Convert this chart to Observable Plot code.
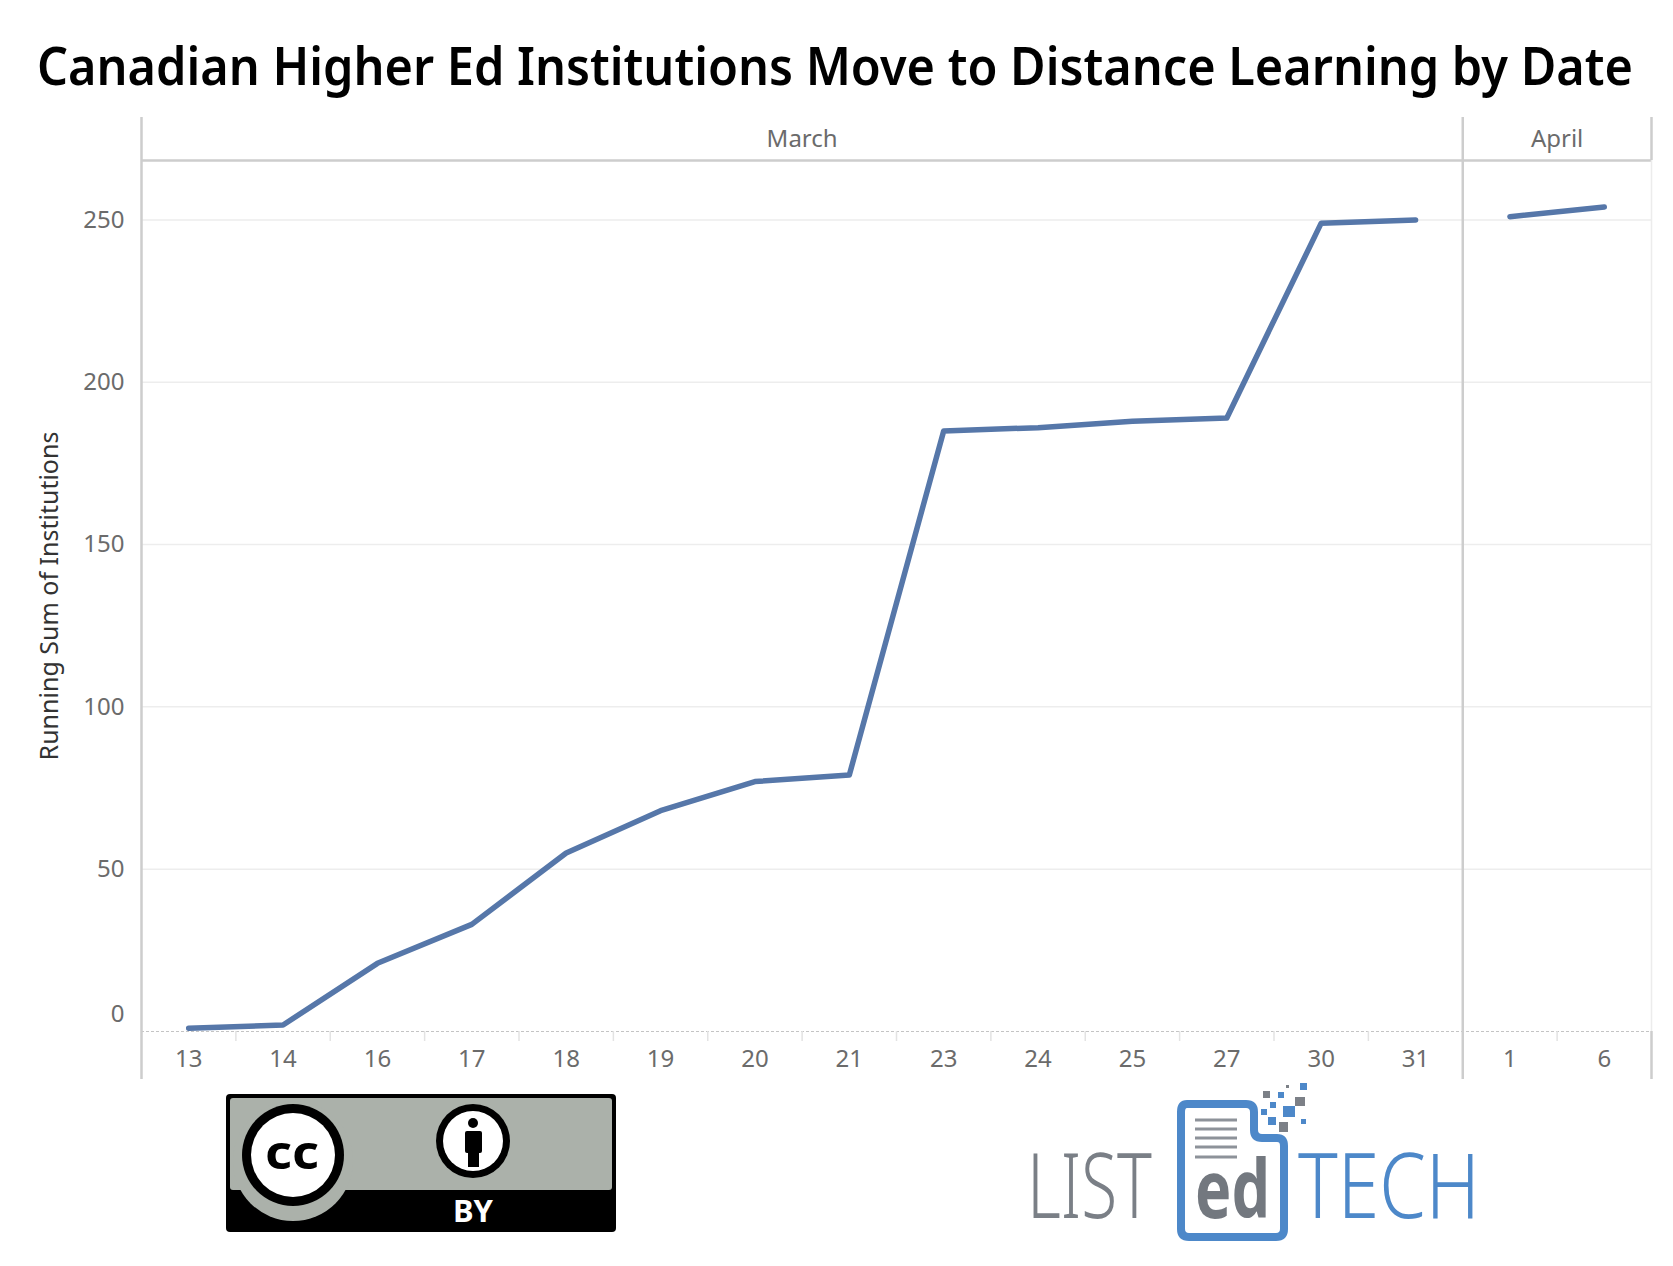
<!DOCTYPE html>
<html>
<head>
<meta charset="utf-8">
<script src="https://cdn.jsdelivr.net/npm/d3@7"></script>
<script src="https://cdn.jsdelivr.net/npm/@observablehq/plot@0.6"></script>
<style>
  html, body { margin: 0; padding: 0; background: #fff; }
  body { width: 1673px; height: 1266px; position: relative; overflow: hidden; font-family: "Noto Sans", sans-serif; }
  #title { position: absolute; left: 37px; top: 38px; font-size: 53px; line-height: 1; font-weight: 600; color: #000; white-space: nowrap; transform-origin: 0 0; }
  #chart { position: absolute; left: 0; top: 110px; }
  #logos { position: absolute; left: 0; top: 0; pointer-events: none; }
</style>
</head>
<body>
<div id="title">Canadian Higher Ed Institutions Move to Distance Learning by Date</div>
<div id="chart"></div>
<svg id="logos" width="1673" height="1266" viewBox="0 0 1673 1266" xmlns="http://www.w3.org/2000/svg">
  <defs>
    <clipPath id="ccclip"><rect x="230" y="1098" width="382" height="130" rx="3"/></clipPath>
  </defs>
  <!-- CC BY badge -->
  <rect x="226" y="1094" width="390" height="138" rx="4" fill="#000"/>
  <rect x="230" y="1098" width="382" height="92" rx="3" fill="#abb1aa"/>
  <g clip-path="url(#ccclip)">
    <circle cx="293" cy="1161" r="60" fill="#abb1aa"/>
  </g>
  <circle cx="293" cy="1155" r="51" fill="#000"/>
  <circle cx="293" cy="1155" r="42" fill="#fff"/>
  <text x="292" y="1169" text-anchor="middle" font-family="Noto Sans" font-weight="700" font-size="46" fill="#000" textLength="54" lengthAdjust="spacingAndGlyphs">cc</text>
  <circle cx="473" cy="1141" r="37" fill="#000"/>
  <circle cx="473" cy="1141" r="30" fill="#fff"/>
  <circle cx="473" cy="1123" r="5" fill="#000"/>
  <rect x="465" y="1131" width="17" height="22" rx="2" fill="#000"/>
  <rect x="468" y="1150" width="11" height="17" fill="#000"/>
  <text x="473" y="1222" text-anchor="middle" font-family="Noto Sans" font-weight="700" font-size="31" fill="#fff">BY</text>

  <!-- LISTedTECH logo -->
  <text x="1027" y="1218" font-family="Noto Sans" font-weight="300" font-size="90" fill="#7a7f86" textLength="125" lengthAdjust="spacingAndGlyphs">LIST</text>
  <path d="M1187,1104 H1246 Q1254,1104 1254,1112 V1130 Q1254,1138 1262,1138 H1277 Q1284,1138 1284,1146 V1229 Q1284,1237 1276,1237 H1189 Q1181,1237 1181,1229 V1112 Q1181,1104 1187,1104 Z" fill="#fff" stroke="#4d88c9" stroke-width="8" stroke-linejoin="round"/>
  <g stroke="#8d9299" stroke-width="3">
    <line x1="1195" y1="1120" x2="1237" y2="1120"/>
    <line x1="1195" y1="1129" x2="1237" y2="1129"/>
    <line x1="1195" y1="1138" x2="1237" y2="1138"/>
    <line x1="1195" y1="1147" x2="1237" y2="1147"/>
    <line x1="1195" y1="1157" x2="1237" y2="1157"/>
  </g>
  <text x="1195" y="1218" font-family="Noto Sans" font-weight="700" font-size="80" fill="#73787f" textLength="75" lengthAdjust="spacingAndGlyphs">ed</text>
  <text x="1298" y="1218" font-family="Noto Sans" font-weight="300" font-size="90" fill="#4d88c9" textLength="182" lengthAdjust="spacingAndGlyphs">TECH</text>
  <g>
    <rect x="1263" y="1091" width="7" height="7" fill="#7c8087"/>
    <rect x="1278" y="1092" width="6" height="6" fill="#4d88c9"/>
    <rect x="1286" y="1085" width="3" height="3" fill="#7c8087"/>
    <rect x="1300" y="1083" width="7" height="7" fill="#4d88c9"/>
    <rect x="1295" y="1097" width="10" height="9" fill="#7c8087"/>
    <rect x="1261" y="1109" width="6" height="6" fill="#4d88c9"/>
    <rect x="1270" y="1102" width="6" height="6" fill="#4d88c9"/>
    <rect x="1283" y="1106" width="12" height="11" fill="#4d88c9"/>
    <rect x="1279" y="1122" width="9" height="10" fill="#7c8087"/>
    <rect x="1301" y="1119" width="5" height="5" fill="#4d88c9"/>
    <rect x="1268" y="1117" width="8" height="8" fill="#4d88c9"/>
  </g>
</svg>
<script>
// ---- Data ----
const months = ["March","March","March","March","March","March","March","March","March","March","March","March","March","March","April","April"];
const days = [13, 14, 16, 17, 18, 19, 20, 21, 23, 24, 25, 27, 30, 31, 1, 6];
const runningSum = [1, 2, 21, 33, 55, 68, 77, 79, 185, 186, 188, 189, 249, 250, 251, 254];
const yTicks = [0, 50, 100, 150, 200, 250];
const yLabel = "Running Sum of Institutions";
const yMax = 268.3;

// ---- Derived table ----
const data = days.map((d, i) => ({ i, day: d, month: months[i], value: runningSum[i] }));
const monthNames = [...new Set(months)];
const monthInfo = monthNames.map(m => {
  const idx = data.filter(d => d.month === m).map(d => d.i);
  return { month: m, center: d3.mean(idx), start: d3.min(idx) - 0.5, end: d3.max(idx) + 0.5 };
});
const xStart = -0.5, xEnd = days.length - 0.5;
const monthDividers = monthInfo.map(m => m.start).filter(s => s > xStart);
const bandBoundaries = d3.range(1, days.length).map(k => k - 0.5).filter(b => !monthDividers.includes(b));

// ---- Layout ----
const W = 1673, H = 980;
const mTop = 50, mBottom = 59, mLeft = 141, mRight = 22;
const plotH = H - mTop - mBottom;
const headerExt = 43, axisExt = 48;
const frameColor = "#cdcdcd";
const labelColor = "#6b6b6b";
const font = "Noto Sans";

const chart = Plot.plot({
  width: W,
  height: H,
  marginTop: mTop,
  marginBottom: mBottom,
  marginLeft: mLeft,
  marginRight: mRight,
  style: { fontFamily: font, color: labelColor, background: "transparent", overflow: "visible" },
  x: { type: "linear", domain: [xStart, xEnd] },
  y: { type: "linear", domain: [0, yMax] },
  marks: [
    // gridlines
    Plot.ruleY(yTicks.filter(v => v > 0), { stroke: "#ededed", strokeWidth: 1.5 }),
    // zero line (dotted)
    Plot.ruleY([0], { stroke: "#c4c4c4", strokeWidth: 1, strokeDasharray: "3,2" }),
    // band boundary tick marks
    Plot.axisX({ ticks: bandBoundaries, tickSize: 10, tickFormat: () => "", stroke: "#e3e3e3", strokeWidth: 1.5, label: null }),
    // day labels
    Plot.axisX({ ticks: d3.range(days.length), tickFormat: i => String(days[i]), tickSize: 0, tickPadding: 18, fontSize: 24, fill: labelColor, label: null }),
    // y tick labels
    Plot.axisY({ ticks: yTicks.filter(v => v > 0), tickSize: 0, tickPadding: 17, fontSize: 24, fill: labelColor, label: null }),
    Plot.axisY({ ticks: [0], tickSize: 0, tickPadding: 17, fontSize: 24, fill: labelColor, dy: -17, label: null }),
    // header bottom line
    Plot.ruleY([yMax], { stroke: frameColor, strokeWidth: 2.5 }),
    // right edge: light inside the pane, gray in header and axis strip
    Plot.ruleX([xEnd], { stroke: "#ececec", strokeWidth: 1.5 }),
    Plot.ruleX([xEnd], { stroke: frameColor, strokeWidth: 2.5, insetTop: -headerExt, insetBottom: plotH }),
    Plot.ruleX([xEnd], { stroke: frameColor, strokeWidth: 2.5, insetTop: plotH, insetBottom: -axisExt }),
    // left edge and month dividers
    Plot.ruleX([xStart, ...monthDividers], { stroke: frameColor, strokeWidth: 2.5, insetTop: -headerExt, insetBottom: -axisExt }),
    // month headers
    Plot.text(monthInfo, { x: "center", text: "month", frameAnchor: "top", lineAnchor: "middle", dy: -21, fontSize: 24, fill: labelColor }),
    // y title
    Plot.text([yLabel], { text: d => d, frameAnchor: "left", textAnchor: "middle", lineAnchor: "middle", rotate: -90, dx: 49 - mLeft, fontSize: 25, fill: "#333" }),
    // data line, broken between months
    Plot.line(data, { x: "i", y: "value", z: "month", stroke: "#5677a9", strokeWidth: 5.5, strokeLinecap: "round", strokeLinejoin: "round" })
  ]
});
document.getElementById("chart").appendChild(chart);

// fit title to its measured width in the reference
const t = document.getElementById("title");
const w = t.getBoundingClientRect().width;
t.style.transform = `scaleX(${1596 / w})`;
</script>
</body>
</html>
